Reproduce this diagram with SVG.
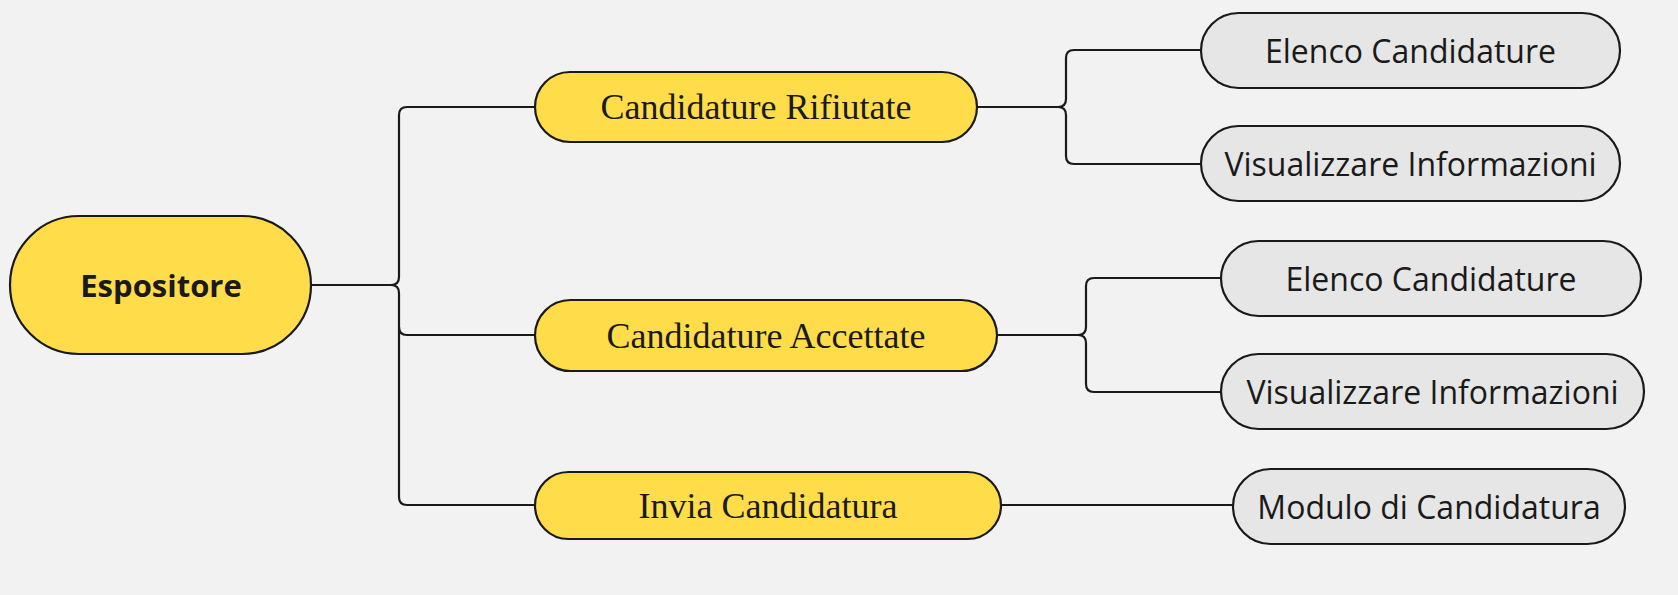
<svg xmlns="http://www.w3.org/2000/svg" width="1678" height="595" viewBox="0 0 1678 595">
<style>
.l0 rect{fill:#ffdd4a;stroke:#1a1a1a;stroke-width:2.2}
.l1 rect{fill:#ffdd4a;stroke:#1a1a1a;stroke-width:2.2}
.l2 rect{fill:#e6e6e6;stroke:#1a1a1a;stroke-width:2.2}
.l0 text{font-family:"Open Sans","Noto Sans",sans-serif;font-weight:700;font-size:31px;fill:#1a1a1a;text-anchor:middle;dominant-baseline:central}
.l1 text{font-family:"Liberation Serif",serif;font-size:36px;fill:#1a1a1a;text-anchor:middle;dominant-baseline:central}
.l2 text{font-family:"Open Sans","Noto Sans",sans-serif;font-size:32px;fill:#1a1a1a;text-anchor:middle;dominant-baseline:central}
#connectors path{fill:none;stroke:#1a1a1a;stroke-width:2.2}
</style>
<rect width="1678" height="595" fill="#f2f2f2"/>
<g id="connectors">
<path d="M311,285 H391 Q399,285 399,277 V115 Q399,107 407,107 H535"/>
<path d="M391,285 Q399,285 399,293 V497 Q399,505 407,505 H535"/>
<path d="M399,327 Q399,335 407,335 H535"/>
<path d="M977,107 H1058 Q1066,107 1066,99 V58 Q1066,50 1074,50 H1201"/>
<path d="M1058,107 Q1066,107 1066,115 V156 Q1066,164 1074,164 H1201"/>
<path d="M997,335 H1078 Q1086,335 1086,327 V286 Q1086,278 1094,278 H1221"/>
<path d="M1078,335 Q1086,335 1086,343 V384 Q1086,392 1094,392 H1221"/>
<path d="M1000,505 H1233"/>
</g>
<g id="n-espositore" class="l0"><rect x="10" y="216" width="301" height="138" rx="69"/><text x="161" y="285">Espositore</text></g>
<g id="n-rifiutate" class="l1"><rect x="535" y="72" width="442" height="70" rx="35"/><text x="756" y="107">Candidature Rifiutate</text></g>
<g id="n-accettate" class="l1"><rect x="535" y="300" width="462" height="71" rx="35.5"/><text x="766" y="335.5">Candidature Accettate</text></g>
<g id="n-invia" class="l1"><rect x="535" y="472" width="466" height="67" rx="33.5"/><text x="768" y="505.5">Invia Candidatura</text></g>
<g id="n-elenco1" class="l2"><rect x="1201" y="13" width="419" height="75" rx="37.5"/><text x="1410.5" y="50.5">Elenco Candidature</text></g>
<g id="n-visual1" class="l2"><rect x="1201" y="126" width="419" height="75" rx="37.5"/><text x="1410.5" y="163.5">Visualizzare Informazioni</text></g>
<g id="n-elenco2" class="l2"><rect x="1221" y="241" width="420" height="75" rx="37.5"/><text x="1431" y="278.5">Elenco Candidature</text></g>
<g id="n-visual2" class="l2"><rect x="1221" y="354" width="423" height="75" rx="37.5"/><text x="1432.5" y="391.5">Visualizzare Informazioni</text></g>
<g id="n-modulo" class="l2"><rect x="1233" y="469" width="392" height="75" rx="37.5"/><text x="1429" y="506.5">Modulo di Candidatura</text></g>
</svg>
